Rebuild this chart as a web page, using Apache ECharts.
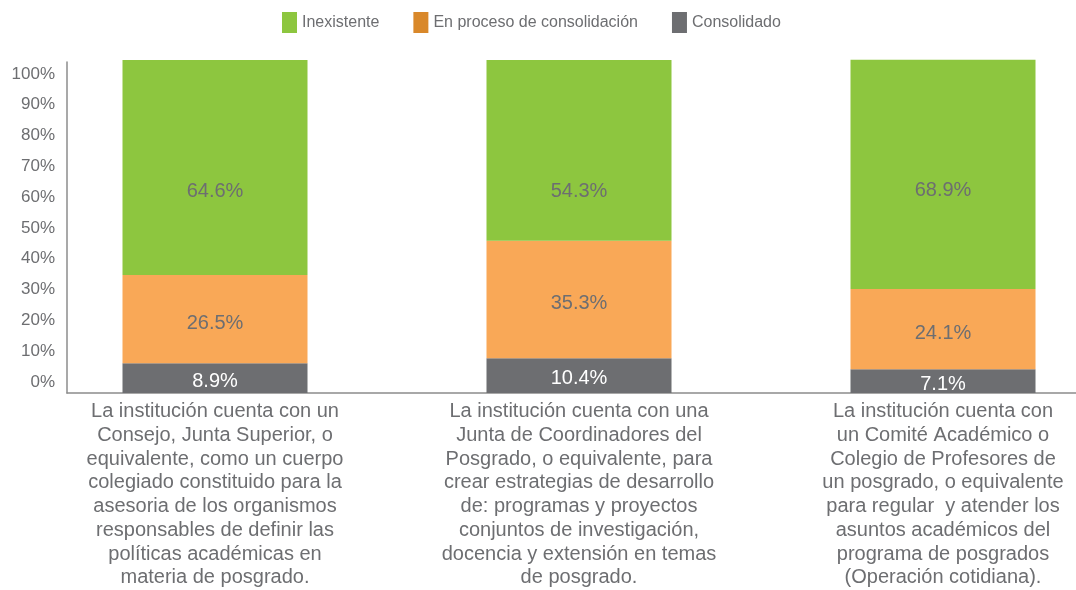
<!DOCTYPE html>
<html>
<head>
<meta charset="utf-8">
<script src="https://cdn.jsdelivr.net/npm/echarts@6/dist/echarts.min.js"></script>
<style>
  html, body { margin: 0; padding: 0; background: #fff; }
  #chart { width: 1076px; height: 590px; }
</style>
</head>
<body>
<div id="chart"></div>
<script>
// categorias (texto del eje x, con sus saltos de linea)
const categories = [
  "La institución cuenta con un\nConsejo, Junta Superior, o\nequivalente, como un cuerpo\ncolegiado constituido para la\nasesoria de los organismos\nresponsables de definir las\npolíticas académicas en\nmateria de posgrado.",
  "La institución cuenta con una\nJunta de Coordinadores del\nPosgrado, o equivalente, para\ncrear estrategias de desarrollo\nde: programas y proyectos\nconjuntos de investigación,\ndocencia y extensión en temas\nde posgrado.",
  "La institución cuenta con\nun Comité Académico o\nColegio de Profesores de\nun posgrado, o equivalente\npara regular  y atender los\nasuntos académicos del\nprograma de posgrados\n(Operación cotidiana)."
];
const seriesNames = ["Inexistente", "En proceso de consolidación", "Consolidado"];
const inexistente = [64.6, 54.3, 68.9];
const enProceso = [26.5, 35.3, 24.1];
const consolidado = [8.9, 10.4, 7.1];
const yTicks = [0, 10, 20, 30, 40, 50, 60, 70, 80, 90, 100];

const FONT = "Liberation Sans";
const GRAY_TEXT = "#6d6e71";
const AXIS_GRAY = "#8c8c8c";

const chart = echarts.init(document.getElementById("chart"));

chart.setOption({
  animation: false,
  textStyle: { fontFamily: FONT },
  legend: {
    top: 12,
    left: 282,
    padding: 0,
    icon: "rect",
    itemWidth: 15,
    itemHeight: 21,
    itemGap: 34,
    textStyle: { fontSize: 16, color: GRAY_TEXT, fontFamily: FONT },
    data: [
      { name: seriesNames[0], itemStyle: { color: "#8dc63f" } },
      { name: seriesNames[1], itemStyle: { color: "#d9882a" } },
      { name: seriesNames[2], itemStyle: { color: "#6d6e71" } }
    ]
  },
  grid: [
    // barras: las categorias caen sobre las marcas (boundaryGap false)
    { left: 215, right: 133, top: 60, height: 333 },
    // marco (lineas de ejes)
    { left: 67, right: 0, top: 62, height: 331 },
    // etiquetas del eje y
    { left: 67, right: 0, top: 74, height: 308 }
  ],
  xAxis: [
    {
      gridIndex: 0,
      type: "category",
      boundaryGap: false,
      data: categories,
      axisLine: { show: false },
      axisTick: { show: false },
      splitLine: { show: false },
      axisLabel: {
        interval: 0,
        fontSize: 20,
        lineHeight: 23.7,
        color: GRAY_TEXT,
        margin: 7,
        align: "center"
      }
    },
    {
      gridIndex: 1,
      type: "value",
      min: 0,
      max: 1,
      axisLine: { show: true, lineStyle: { color: AXIS_GRAY, width: 1.5 } },
      axisTick: { show: false },
      axisLabel: { show: false },
      splitLine: { show: false }
    },
    {
      gridIndex: 2,
      type: "value",
      min: 0,
      max: 1,
      show: false
    }
  ],
  yAxis: [
    {
      gridIndex: 0,
      type: "value",
      min: 0,
      max: 100,
      show: false
    },
    {
      gridIndex: 1,
      type: "value",
      min: 0,
      max: 1,
      axisLine: { show: true, lineStyle: { color: AXIS_GRAY, width: 1.5 } },
      axisTick: { show: false },
      axisLabel: { show: false },
      splitLine: { show: false }
    },
    {
      gridIndex: 2,
      type: "value",
      min: yTicks[0],
      max: yTicks[yTicks.length - 1],
      interval: 10,
      axisLine: { show: false },
      axisTick: { show: false },
      splitLine: { show: false },
      axisLabel: {
        formatter: "{value}%",
        fontSize: 17,
        color: GRAY_TEXT,
        margin: 12
      }
    }
  ],
  series: [
    {
      name: seriesNames[2],
      type: "bar",
      stack: "total",
      barWidth: 185,
      clip: false,
      data: consolidado,
      itemStyle: { color: "#6d6e71" },
      label: {
        show: true,
        position: "inside",
        offset: [0, 3],
        formatter: "{c}%",
        fontSize: 20,
        color: "#ffffff"
      }
    },
    {
      name: seriesNames[1],
      type: "bar",
      stack: "total",
      barWidth: 185,
      clip: false,
      data: enProceso,
      itemStyle: { color: "#f9a857" },
      label: {
        show: true,
        position: "inside",
        offset: [0, 4],
        formatter: "{c}%",
        fontSize: 20,
        color: GRAY_TEXT
      }
    },
    {
      name: seriesNames[0],
      type: "bar",
      stack: "total",
      barWidth: 185,
      clip: false,
      data: inexistente,
      itemStyle: { color: "#8dc63f" },
      label: {
        show: true,
        position: "insideTop",
        distance: 121,
        formatter: "{c}%",
        fontSize: 20,
        color: GRAY_TEXT
      }
    }
  ]
});
</script>
</body>
</html>
